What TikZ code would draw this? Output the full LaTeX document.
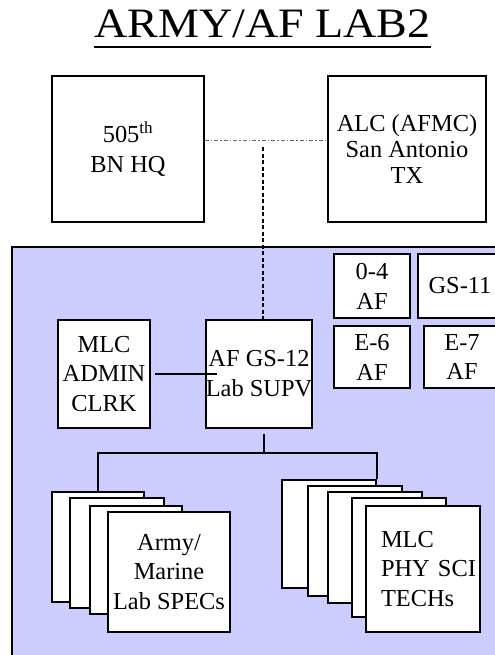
\documentclass[tikz,border=0pt]{standalone}
\usepackage{fontspec}
\setmainfont{Liberation Serif}
\definecolor{lav}{HTML}{CCCCFF}
\begin{document}
\begin{tikzpicture}[x=1bp,y=-1bp,
  box/.style={draw, fill=white, line width=1.8bp, inner sep=0pt, align=center,
    font=\fontsize{24.5}{30}\selectfont},
  conn/.style={line width=1.8bp},
  hdots/.style={line width=1bp, black!60, dash pattern=on 4bp off 2bp on 1.5bp off 2bp},
  vdash/.style={line width=2bp, dash pattern=on 4bp off 2.5bp}]
\clip (0,0) rectangle (495,655);
\useasboundingbox (0,0) rectangle (495,655);

% title
\node[anchor=base, font=\fontsize{42}{48}\selectfont, inner sep=0pt] (title) at (262.5,38)
  {\scalebox{1.1}[1]{ARMY/AF LAB2}};
\coordinate (ul) at (0,47);
\draw[line width=2bp] (title.west |- ul) -- (title.east |- ul);

% top boxes
\node[box, minimum width=152bp, minimum height=146bp] (bn) at (128,149) {505\textsuperscript{th}\\BN HQ};
\node[box, minimum width=158bp, minimum height=146bp, font=\fontsize{24.5}{26.5}\selectfont] (alc) at (407,149) {ALC (AFMC)\\San Antonio\\TX};

% big container
\fill[lav] (12,247) rectangle (510,670);
\draw[line width=1.8bp] (12,670) -- (12,247) -- (510,247);

% small boxes
\node[box, minimum width=76bp, minimum height=64bp] (o4) at (372,286) {0-4\\AF};
\node[box, minimum width=84bp, minimum height=64bp] (gs11) at (460,286) {GS-11};
\node[box, minimum width=76bp, minimum height=62bp] (e6) at (372,357) {E-6\\AF};
\node[box, minimum width=76bp, minimum height=62bp] (e7) at (462,357) {E-7\\AF};

% admin + supervisor
\node[box, minimum width=92bp, minimum height=108bp] (mlc) at (104,374) {MLC\\ADMIN\\CLRK};
\node[box, minimum width=106bp, minimum height=108bp] (sup) at (259,374) {AF GS-12\\Lab SUPV};

% dashed links to top
\draw[hdots] ([yshift=9bp]bn.east) -- ([yshift=9bp]alc.west);
\coordinate (top) at (263,147);
\draw[vdash] (top) -- (top |- sup.north);
\draw[conn] ([xshift=4bp]mlc.east) -- ([xshift=12bp]sup.west);

% left stack
\node[box, minimum width=92bp, minimum height=110bp] (L1) at (98,547) {};
\node[box, minimum width=94bp, minimum height=110bp] (L2) at (117,553) {};
\node[box, minimum width=92bp, minimum height=108bp] (L3) at (136,560) {};
\node[box, minimum width=122bp, minimum height=120bp] (L4) at (169,572) {Army/\\Marine\\Lab SPECs};

% right stack
\node[box, minimum width=94bp, minimum height=108bp] (R1) at (329,534) {};
\node[box, minimum width=94bp, minimum height=110bp] (R2) at (355,541) {};
\node[box, minimum width=94bp, minimum height=111bp] (R3) at (375,547.5) {};
\node[box, minimum width=94bp, minimum height=119bp] (R4) at (399,557.5) {};
\node[box, minimum width=114bp, minimum height=126bp, align=left, text width=84bp] (R5) at (423,569) {MLC\\\mbox{PHY SCI}\\TECHs};

% tree connectors
\coordinate (jt) at (264,434);
\coordinate (jn) at (264,453);
\draw[conn] (jt) -- (jn);
\draw[conn] (L1.north) |- (jn) -| (R1.north east);
\end{tikzpicture}
\end{document}
